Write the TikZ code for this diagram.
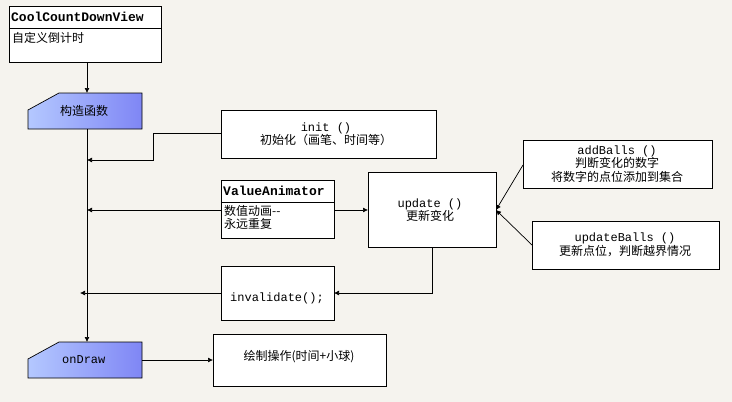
\documentclass[tikz,border=0pt]{standalone}
\usepackage{fontspec}
\setmainfont{Noto Sans CJK SC}
\newfontfamily\monof{Liberation Mono}
\usetikzlibrary{arrows.meta}
\definecolor{bg}{HTML}{F5F3EE}
\definecolor{lb}{HTML}{B4C8FF}
\definecolor{db}{HTML}{7F86F5}
\tikzset{
  box/.style={draw=black, fill=white, line width=0.8pt},
  txt/.style={font=\fontsize{12}{13.5}\selectfont, align=center, inner sep=0pt},
  con/.style={line width=0.7pt, -{Latex[length=5pt,width=5pt]}},
  ln/.style={line width=0.7pt},
}
\begin{document}
\begin{tikzpicture}[x=1pt,y=-1pt]
\fill[bg] (0,0) rectangle (732,402);
\useasboundingbox (0,0) rectangle (732,402);
% CoolCountDownView
\draw[box] (9,6) rectangle (161,62);
\draw[ln] (9,28) -- (161,28);
\node[txt,anchor=west] (ccd) at (11,17) {\fontsize{13}{14}\selectfont\monof\bfseries CoolCountDownView};
\node[txt,anchor=west] (ccdt) at (12,38) {自定义倒计时};
\coordinate (ccdb) at (87,62);
% ctor shape
\shade[left color=lb, right color=db] (28,110) -- (59,93) -- (142,93) -- (142,129) -- (28,129) -- cycle;
\draw[ln] (28,110) -- (59,93) -- (142,93) -- (142,129) -- (28,129) -- cycle;
\node[txt] (ctor) at (84,111) {构造函数};
\coordinate (ctort) at (87,93);
\coordinate (ctorb) at (87,129);
\draw[con] (ccdb) -- (ctort);
% onDraw shape
\shade[left color=lb, right color=db] (28,359) -- (59,342) -- (142,342) -- (142,378) -- (28,378) -- cycle;
\draw[ln] (28,359) -- (59,342) -- (142,342) -- (142,378) -- (28,378) -- cycle;
\node[txt,anchor=west] (ondraw) at (62,360) {\monof onDraw};
\coordinate (ondt) at (87,342);
\draw[con] (ctorb) -- (ondt);
% init
\draw[box] (221,110) rectangle (436,158);
\node[txt] (init) at (326,134) {\monof init ()\\初始化（画笔、时间等）};
\coordinate (initl) at (221,133);
\coordinate (m1) at (87,160);
\draw[con] (initl) -| (153,160) -- (m1);
% ValueAnimator
\draw[box] (221,180) rectangle (334,238);
\draw[ln] (221,202) -- (334,202);
\node[txt,anchor=west] (va) at (223,191) {\fontsize{13}{14}\selectfont\monof\bfseries ValueAnimator};
\node[txt,anchor=north west,align=left] (vat) at (224,205) {数值动画{-}{-}\\永远重复};
\coordinate (val) at (221,210);
\coordinate (var) at (334,210);
\coordinate (m2) at (87,210);
\draw[con] (val) -- (m2);
% update
\draw[box] (368,172) rectangle (496,247);
\node[txt] (upd) at (430,210) {\monof update ()\\更新变化};
\coordinate (updl) at (368,210);
\coordinate (updr) at (496,210);
\coordinate (updb) at (432,247);
\draw[con] (var) -- (updl);
% addBalls
\draw[box] (523,140) rectangle (712,188);
\node[txt] (add) at (617,164) {\monof addBalls ()\\判断变化的数字\\将数字的点位添加到集合};
\coordinate (addl) at (523,165);
\draw[con] (addl) -- (updr);
% updateBalls
\draw[box] (532,221) rectangle (719,269);
\node[txt] (ub) at (625,245) {\monof updateBalls ()\\更新点位，判断越界情况};
\coordinate (ubl) at (532,245);
\draw[con] (ubl) -- (updr);
% invalidate
\draw[box] (221,266) rectangle (334,320);
\node[txt] (inv) at (277,298) {\monof invalidate();};
\coordinate (invr) at (334,293);
\coordinate (invl) at (221,293);
\coordinate (m3) at (80,293);
\draw[con] (updb) |- (invr);
\draw[con] (invl) -- (m3);
% draw op
\draw[box] (213,334) rectangle (386,386);
\node[txt] (dop) at (299,357) {绘制操作(时间+小球)};
\coordinate (dopl) at (213,360);
\coordinate (ondr) at (142,360);
\draw[con] (ondr) -- (dopl);
\end{tikzpicture}
\end{document}
